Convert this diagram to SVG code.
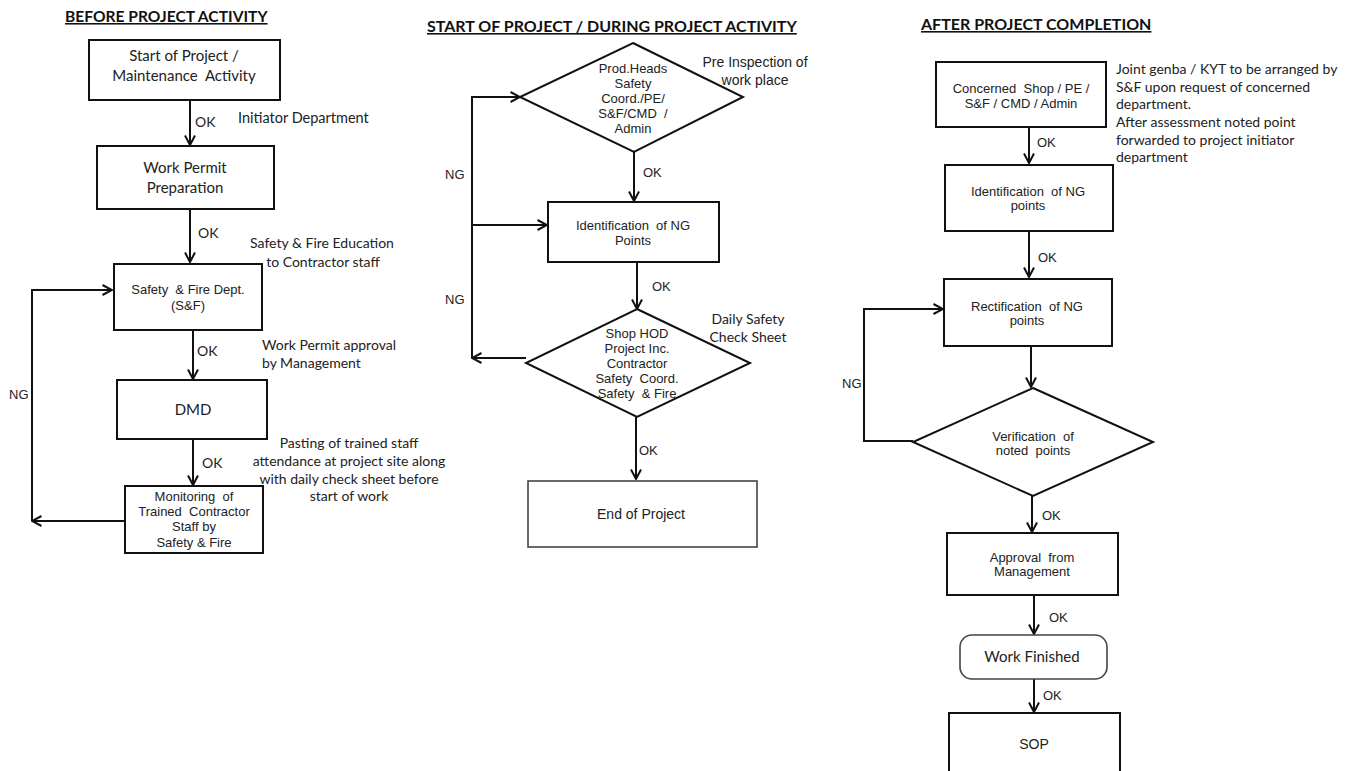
<svg xmlns="http://www.w3.org/2000/svg" width="1354" height="771" viewBox="0 0 1354 771">
<style>
.box{fill:#fff;stroke:#111;stroke-width:2}
.gbox{fill:#fff;stroke:#444;stroke-width:1.6}
.conn{fill:none;stroke:#111;stroke-width:2}
text{white-space:pre}
.c{font-family:Lato,"Liberation Sans",sans-serif;font-size:14px;fill:#222}
.a{font-family:"Liberation Sans",Arial,sans-serif;font-size:13px;fill:#222}
.t{font-family:Lato,"Liberation Sans",sans-serif;font-weight:bold;font-size:16px;fill:#111;text-decoration:underline}
.m{text-anchor:middle}
</style>
<defs>
<marker id="arr" markerUnits="userSpaceOnUse" markerWidth="12" markerHeight="12" viewBox="0 0 12 12" refX="11" refY="6" orient="auto">
<path d="M1.5,1 L11,6 L1.5,11" fill="none" stroke="#111" stroke-width="2"/>
</marker>
</defs>
<rect width="1354" height="771" fill="#fff"/>

<!-- Titles -->
<text class="t" x="65" y="22" style="font-size:15.6px">BEFORE PROJECT ACTIVITY</text>
<text class="t" x="427" y="32">START OF PROJECT / DURING PROJECT ACTIVITY</text>
<text class="t" x="921" y="30">AFTER PROJECT COMPLETION</text>

<!-- Connectors -->
<g id="connectors">
<line class="conn" x1="190" y1="101" x2="190" y2="145" marker-end="url(#arr)"/>
<line class="conn" x1="190" y1="210" x2="190" y2="262" marker-end="url(#arr)"/>
<line class="conn" x1="193" y1="331" x2="193" y2="379" marker-end="url(#arr)"/>
<line class="conn" x1="193" y1="440" x2="193" y2="485" marker-end="url(#arr)"/>
<line class="conn" x1="124" y1="521" x2="32" y2="521" marker-end="url(#arr)"/>
<polyline class="conn" points="32,521 32,290 112,290" marker-end="url(#arr)"/>
<line class="conn" x1="634" y1="152" x2="634" y2="201" marker-end="url(#arr)"/>
<line class="conn" x1="637" y1="263" x2="637" y2="309" marker-end="url(#arr)"/>
<line class="conn" x1="636" y1="417" x2="636" y2="479" marker-end="url(#arr)"/>
<line class="conn" x1="526" y1="358" x2="472" y2="358" marker-end="url(#arr)"/>
<polyline class="conn" points="472,358 472,97 520,97" marker-end="url(#arr)"/>
<line class="conn" x1="472" y1="225" x2="547" y2="225" marker-end="url(#arr)"/>
<line class="conn" x1="1029" y1="128" x2="1029" y2="163" marker-end="url(#arr)"/>
<line class="conn" x1="1029" y1="232" x2="1029" y2="277" marker-end="url(#arr)"/>
<line class="conn" x1="1031" y1="347" x2="1031" y2="387" marker-end="url(#arr)"/>
<polyline class="conn" points="913,441 864,441 864,309 943,309" marker-end="url(#arr)"/>
<line class="conn" x1="1032" y1="496" x2="1032" y2="532" marker-end="url(#arr)"/>
<line class="conn" x1="1034" y1="596" x2="1034" y2="634" marker-end="url(#arr)"/>
<line class="conn" x1="1034" y1="679" x2="1034" y2="712" marker-end="url(#arr)"/>
</g>

<!-- Connector labels and annotations -->
<g id="labels">
<text class="c" x="195" y="127">OK</text>
<text class="c" x="238" y="123" style="font-size:14.5px">Initiator Department</text>
<text class="c" x="198" y="238">OK</text>
<text class="c m" x="322" y="248">Safety &amp; Fire Education</text>
<text class="c m" x="323" y="267">to Contractor staff</text>
<text class="c" x="197" y="356">OK</text>
<text class="c" x="262" y="350">Work Permit approval</text>
<text class="c" x="262" y="368">by Management</text>
<text class="a" x="9" y="399">NG</text>
<text class="c" x="202" y="468">OK</text>
<text class="c m" x="349" y="448">Pasting of trained staff</text>
<text class="c m" x="349" y="466">attendance at project site along</text>
<text class="c m" x="349" y="484">with daily check sheet before</text>
<text class="c m" x="349" y="501">start of work</text>

<text class="a" x="643" y="177">OK</text>
<text class="a" x="445" y="179">NG</text>
<text class="a" x="445" y="304">NG</text>
<text class="a" x="652" y="291">OK</text>
<text class="a" x="639" y="455">OK</text>
<text class="a m" x="755" y="67" style="font-size:14px">Pre Inspection of</text>
<text class="a m" x="755" y="85" style="font-size:14px">work place</text>
<text class="c m" x="748" y="324">Daily Safety</text>
<text class="c m" x="748" y="342">Check Sheet</text>

<text class="c" x="1116" y="74">Joint genba / KYT to be arranged by</text>
<text class="c" x="1116" y="92">S&amp;F upon request of concerned</text>
<text class="c" x="1116" y="109">department.</text>
<text class="c" x="1116" y="127">After assessment noted point</text>
<text class="c" x="1116" y="145">forwarded to project initiator</text>
<text class="c" x="1116" y="162">department</text>
<text class="a" x="1037" y="147">OK</text>
<text class="a" x="1038" y="262">OK</text>
<text class="a" x="842" y="388">NG</text>
<text class="a" x="1042" y="520">OK</text>
<text class="a" x="1049" y="622">OK</text>
<text class="a" x="1043" y="700">OK</text>
</g>

<!-- Left column nodes -->
<g id="n-start">
<rect class="box" x="89" y="40" width="191" height="60"/>
<text class="c m" x="184" y="61" style="font-size:15px">Start of Project /</text>
<text class="c m" x="184" y="81" style="font-size:15px">Maintenance  Activity</text>
</g>
<g id="n-permit">
<rect class="box" x="97" y="146" width="177" height="63"/>
<text class="c m" x="185" y="173" style="font-size:15px">Work Permit</text>
<text class="c m" x="185" y="193" style="font-size:15px">Preparation</text>
</g>
<g id="n-sf">
<rect class="box" x="114" y="264" width="148" height="66"/>
<text class="a m" x="188" y="294">Safety  &amp; Fire Dept.</text>
<text class="a m" x="188" y="310">(S&amp;F)</text>
</g>
<g id="n-dmd">
<rect class="box" x="117" y="380" width="150" height="59"/>
<text class="c m" x="193" y="415" style="font-size:15px">DMD</text>
</g>
<g id="n-monitor">
<rect class="box" x="125" y="486" width="138" height="67"/>
<text class="a m" x="194" y="501">Monitoring  of</text>
<text class="a m" x="194" y="516">Trained  Contractor</text>
<text class="a m" x="194" y="531">Staff by</text>
<text class="a m" x="194" y="547">Safety &amp; Fire</text>
</g>

<!-- Middle column nodes -->
<g id="n-preinspect">
<polygon class="box" points="633,43 743,97 634,152 520,97"/>
<text class="a m" x="633" y="73">Prod.Heads</text>
<text class="a m" x="633" y="88">Safety</text>
<text class="a m" x="633" y="103">Coord./PE/</text>
<text class="a m" x="633" y="118">S&amp;F/CMD  /</text>
<text class="a m" x="633" y="133">Admin</text>
</g>
<g id="n-ident">
<rect class="box" x="548" y="202" width="171" height="60"/>
<text class="a m" x="633" y="230">Identification  of NG</text>
<text class="a m" x="633" y="245">Points</text>
</g>
<g id="n-daily">
<polygon class="box" points="637,309 750,363 637,417 526,363"/>
<text class="a m" x="637" y="338">Shop HOD</text>
<text class="a m" x="637" y="353">Project Inc.</text>
<text class="a m" x="637" y="368">Contractor</text>
<text class="a m" x="637" y="383">Safety  Coord.</text>
<text class="a m" x="637" y="398">Safety  &amp; Fire</text>
</g>
<g id="n-end">
<rect class="gbox" x="528" y="481" width="229" height="66"/>
<text class="a m" x="641" y="519" style="font-size:14px">End of Project</text>
</g>

<!-- Right column nodes -->
<g id="n-concerned">
<rect class="box" x="936" y="62" width="170" height="65"/>
<text class="a m" x="1021" y="93">Concerned  Shop / PE /</text>
<text class="a m" x="1021" y="108">S&amp;F / CMD / Admin</text>
</g>
<g id="n-identr">
<rect class="box" x="945" y="165" width="168" height="66"/>
<text class="a m" x="1028" y="196">Identification  of NG</text>
<text class="a m" x="1028" y="210">points</text>
</g>
<g id="n-rect">
<rect class="box" x="944" y="279" width="168" height="67"/>
<text class="a m" x="1027" y="311">Rectification  of NG</text>
<text class="a m" x="1027" y="325">points</text>
</g>
<g id="n-verify">
<polygon class="box" points="1033,388 1153,442 1033,496 913,442"/>
<text class="a m" x="1033" y="441">Verification  of</text>
<text class="a m" x="1033" y="455">noted  points</text>
</g>
<g id="n-approval">
<rect class="box" x="947" y="533" width="171" height="62"/>
<text class="a m" x="1032" y="562">Approval  from</text>
<text class="a m" x="1032" y="576">Management</text>
</g>
<g id="n-finished">
<rect class="gbox" x="960" y="635" width="147" height="44" rx="12" ry="12"/>
<text class="c m" x="1032" y="662" style="font-size:15px">Work Finished</text>
</g>
<g id="n-sop">
<rect class="box" x="949" y="713" width="171" height="75"/>
<text class="a m" x="1034" y="749" style="font-size:14px">SOP</text>
</g>
</svg>
